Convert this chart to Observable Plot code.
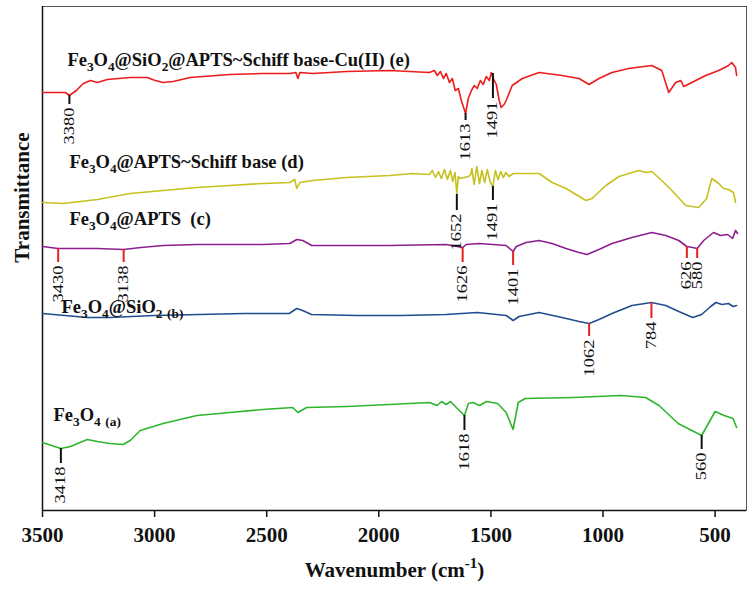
<!DOCTYPE html>
<html>
<head>
<meta charset="utf-8">
<script src="https://cdn.jsdelivr.net/npm/d3@7"></script>
<script src="https://cdn.jsdelivr.net/npm/@observablehq/plot@0.6"></script>
<style>
  body { margin: 0; background: #fff; }
</style>
</head>
<body>
<div id="chart"></div>
<script>
// ---- Data: [wavenumber (cm-1), transmittance (a.u., offset per spectrum)] ----
const specE = [[3500,83.6],[3398,83.6],[3380,83.0],[3349,84.0],[3318,85.4],[3286,86.0],[3255,85.6],[3211,86.2],[3109,86.6],[3033,86.6],[2997,86.0],[2962,85.6],[2917,85.8],[2842,86.6],[2664,87.2],[2517,87.4],[2397,87.4],[2370,87.6],[2361,86.4],[2352,87.6],[2295,87.4],[2143,87.8],[1952,88.0],[1774,87.6],[1752,88.0],[1739,87.0],[1725,87.8],[1712,86.4],[1699,87.4],[1685,85.6],[1672,86.4],[1659,84.0],[1645,84.4],[1632,82.0],[1613,79.4],[1601,82.4],[1587,84.0],[1574,85.0],[1561,84.4],[1547,86.0],[1534,85.2],[1521,86.8],[1507,86.0],[1498,87.6],[1489,86.4],[1476,85.2],[1463,82.0],[1454,80.6],[1441,81.2],[1432,82.0],[1405,85.0],[1360,86.4],[1285,87.6],[1183,87.0],[1107,86.4],[1062,85.2],[1018,86.4],[960,87.6],[885,88.4],[782,89.0],[738,88.0],[707,83.6],[676,85.6],[653,86.0],[640,84.8],[604,85.6],[542,87.0],[484,88.0],[440,89.0],[426,89.6],[409,88.6],[404,87.0]];

const specD = [[3500,61.6],[3407,61.4],[3331,61.8],[3255,62.2],[3109,63.4],[2962,64.0],[2811,64.6],[2664,65.0],[2517,65.4],[2397,65.6],[2375,66.2],[2366,64.4],[2352,65.6],[2295,66.0],[2143,66.6],[1952,67.0],[1850,67.4],[1774,67.2],[1761,68.0],[1747,66.6],[1734,67.8],[1721,66.4],[1707,68.2],[1694,66.2],[1681,68.0],[1670,65.8],[1660,67.6],[1652,63.4],[1645,66.8],[1637,66.4],[1620,66.6],[1600,66.8],[1590,67.2],[1585,68.4],[1575,65.2],[1563,68.8],[1551,65.4],[1540,68.0],[1528,65.6],[1516,68.2],[1504,65.8],[1491,64.8],[1480,68.0],[1468,66.2],[1456,67.8],[1445,66.6],[1433,67.6],[1420,66.8],[1400,67.4],[1374,67.4],[1285,67.4],[1227,65.6],[1165,64.4],[1076,62.0],[1049,62.4],[987,65.0],[929,66.8],[840,68.0],[809,67.6],[782,67.8],[738,66.0],[693,64.0],[631,61.0],[573,60.6],[538,62.4],[515,66.4],[484,65.4],[462,64.4],[440,64.2],[418,63.6],[409,61.6]];

const specC = [[3500,52.8],[3430,52.4],[3255,52.4],[3138,52.2],[3060,52.6],[2962,53.0],[2811,53.2],[2664,53.2],[2517,53.2],[2397,53.4],[2366,54.2],[2339,54.0],[2299,53.0],[2143,53.0],[1952,53.0],[1699,53.2],[1626,52.6],[1610,53.2],[1552,53.4],[1432,53.0],[1401,51.8],[1387,52.8],[1343,53.6],[1285,54.0],[1227,53.4],[1165,52.4],[1107,51.6],[1071,51.2],[1018,52.2],[960,53.4],[871,54.6],[782,55.6],[720,55.0],[662,54.0],[626,52.8],[600,52.6],[580,52.4],[551,54.0],[507,55.6],[476,55.0],[444,55.2],[422,54.4],[409,56.0],[400,55.4]];

const specB = [[3500,39.4],[3400,39.0],[3300,38.6],[3200,38.6],[3100,38.8],[3000,39.0],[2800,39.2],[2600,39.4],[2400,39.4],[2366,40.4],[2340,40.0],[2300,39.2],[2100,39.0],[1900,39.0],[1700,39.2],[1560,39.6],[1432,39.0],[1401,38.0],[1374,38.8],[1285,39.6],[1183,38.6],[1107,37.8],[1062,37.4],[1018,38.2],[960,39.4],[871,41.0],[784,41.6],[720,41.0],[662,39.8],[600,38.6],[560,39.2],[520,40.8],[496,41.6],[470,41.2],[440,41.4],[420,40.8],[404,41.0]];

const specA = [[3500,13.6],[3418,12.4],[3375,12.8],[3300,14.2],[3255,13.8],[3200,13.4],[3140,13.2],[3109,14.0],[3064,16.0],[2962,17.4],[2811,19.0],[2664,19.6],[2517,20.2],[2384,20.6],[2361,19.6],[2322,20.6],[2143,20.8],[1952,21.2],[1774,21.6],[1740,21.0],[1720,21.8],[1700,21.2],[1680,21.8],[1650,20.4],[1618,19.0],[1600,21.4],[1580,21.6],[1550,21.0],[1520,21.8],[1470,21.4],[1432,19.6],[1401,16.2],[1378,21.6],[1347,22.4],[1130,22.6],[920,23.0],[810,22.6],[750,21.0],[665,17.4],[560,15.0],[500,19.8],[460,19.0],[420,18.4],[404,16.6]];

const seriesNames = ["e", "d", "c", "b", "a"];
const seriesColors = ["#ee1b1b", "#c6c11e", "#8c1f8f", "#1f4e8f", "#2db52d"];
const seriesLabels = [
  {text: "Fe_{3}O_{4}@SiO_{2}@APTS~Schiff base-Cu(II) (e)", wn: 3389, t: 89.0},
  {text: "Fe_{3}O_{4}@APTS~Schiff base (d)", wn: 3380, t: 68.6},
  {text: "Fe_{3}O_{4}@APTS  (c)", wn: 3380, t: 57.2},
  {text: "Fe_{3}O_{4}@SiO_{2} _{(b)}", wn: 3415, t: 39.6},
  {text: "Fe_{3}O_{4} _{(a)}", wn: 3451, t: 18.0}
];

// peak markers: wavenumber, label, tick top / bottom (a.u.)
const peaks = [
  {s: "e", wn: 3380, label: "3380", top: 83.0, bottom: 81.2},
  {s: "e", wn: 1613, label: "1613", top: 79.4, bottom: 78.0},
  {s: "e", wn: 1491, label: "1491", top: 87.4, bottom: 82.4},
  {s: "d", wn: 1652, label: "1652", top: 63.2, bottom: 60.0},
  {s: "d", wn: 1491, label: "1491", top: 64.8, bottom: 62.0},
  {s: "c", wn: 3430, label: "3430", top: 52.4, bottom: 49.6},
  {s: "c", wn: 3138, label: "3138", top: 52.2, bottom: 49.6},
  {s: "c", wn: 1626, label: "1626", top: 52.6, bottom: 49.6},
  {s: "c", wn: 1401, label: "1401", top: 51.8, bottom: 49.0},
  {s: "c", wn: 626, label: "626", top: 52.8, bottom: 50.4},
  {s: "c", wn: 580, label: "580", top: 52.4, bottom: 50.4},
  {s: "b", wn: 1062, label: "1062", top: 37.4, bottom: 34.8},
  {s: "b", wn: 784, label: "784", top: 41.6, bottom: 38.4},
  {s: "a", wn: 3418, label: "3418", top: 12.4, bottom: 9.4},
  {s: "a", wn: 1618, label: "1618", top: 19.0, bottom: 16.0},
  {s: "a", wn: 560, label: "560", top: 15.0, bottom: 12.2}
];
const peakTickColor = {e: "#111", d: "#111", c: "#e32222", b: "#e32222", a: "#111"};

const xTicks = [3500, 3000, 2500, 2000, 1500, 1000, 500];
const xTitle = "Wavenumber (cm^{-1})";
const yTitle = "Transmittance";

// ---- Chart ----
const spectra = [specE, specD, specC, specB, specA];
const serif = "'Liberation Serif', 'Times New Roman', serif";

const lineMarks = spectra.map((sp, i) =>
  Plot.line(sp, {x: d => d[0], y: d => d[1], stroke: seriesColors[i], strokeWidth: 1.6})
);

const chart = Plot.plot({
  width: 750,
  height: 598,
  marginTop: 6,
  marginRight: 4,
  marginBottom: 88,
  marginLeft: 42,
  style: {fontFamily: serif, background: "#fff", color: "#111"},
  x: {domain: [3500, 360]},
  y: {domain: [0, 100.8], axis: null},
  marks: [
    Plot.frame({stroke: "#555", strokeWidth: 1}),
    Plot.axisX({ticks: xTicks, tickFormat: d => String(d), tickSize: 7, tickPadding: 10,
      fontSize: 21, label: null, stroke: "#111", strokeWidth: 1.5}),
    Plot.ruleY([0], {stroke: "#111", strokeWidth: 1.5}),
    Plot.ruleX([3500], {stroke: "#111", strokeWidth: 1.5}),
    ...lineMarks,
    Plot.ruleX(peaks, {x: "wn", y1: "top", y2: "bottom", stroke: d => peakTickColor[d.s], strokeWidth: 2}),
    Plot.text(peaks, {x: "wn", y: "bottom", text: "label", rotate: -90, textAnchor: "end",
      dy: 3, fontSize: 14, fill: "#111"}),
    Plot.text(seriesLabels, {x: "wn", y: "t", text: "text", textAnchor: "start", lineAnchor: "bottom",
      fontSize: 18.5, fontWeight: "bold", fill: "#111"}),
    Plot.text([yTitle], {x: () => 3500, y: () => 62.6, text: d => d, dx: -20, rotate: -90,
      fontSize: 21, fontWeight: "bold", fill: "#111"}),
    Plot.text([xTitle], {frameAnchor: "bottom", text: d => d, dy: 66, lineAnchor: "bottom",
      fontSize: 21, fontWeight: "bold", fill: "#111"})
  ]
});

// bold tick labels
d3.select(chart).selectAll('g[aria-label="x-axis tick label"]').attr("font-weight", "bold");

// condensed peak labels (stretched along reading direction)
chart.querySelectorAll("text").forEach(el => {
  const tr = el.getAttribute("transform") || "";
  if (/^\d+$/.test(el.textContent.trim()) && tr.includes("rotate")) {
    el.setAttribute("transform", tr + " scale(1.32,1)");
  }
});

// sub/superscripts
function richText(el, size) {
  const s = el.textContent;
  const parts = s.split(/(_\{[^}]*\}|\^\{[^}]*\})/).filter(p => p.length);
  while (el.firstChild) el.removeChild(el.firstChild);
  let shift = 0;
  for (const p of parts) {
    let target = 0, t = p, small = false;
    if (p.startsWith("_{")) { target = size * 0.28; t = p.slice(2, -1); small = true; }
    else if (p.startsWith("^{")) { target = -size * 0.42; t = p.slice(2, -1); small = true; }
    const ts = document.createElementNS("http://www.w3.org/2000/svg", "tspan");
    ts.textContent = t;
    ts.setAttribute("dy", (target - shift) + "px");
    if (small) ts.setAttribute("font-size", (size * 0.72) + "px");
    el.appendChild(ts);
    shift = target;
  }
}
chart.querySelectorAll("text").forEach(el => {
  if (/[_^]\{/.test(el.textContent)) {
    const size = el.textContent.startsWith("Wavenumber") ? 21 : 18.5;
    richText(el, size);
  }
});

document.getElementById("chart").appendChild(chart);
</script>
</body>
</html>
